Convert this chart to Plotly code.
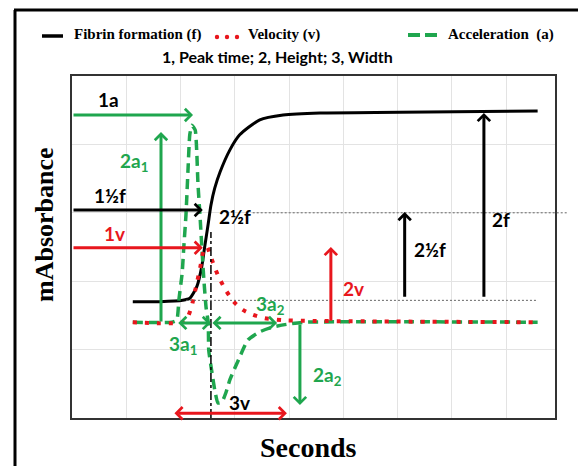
import plotly.graph_objects as go

# ---------------- data (axis units: seconds / mAbsorbance) -------------
fib_x = [1.12, 1.62, 2.04, 2.17, 2.30, 2.39, 2.45, 2.51, 2.56, 2.63, 2.73, 2.91, 3.09, 3.46, 3.89, 4.57, 6.04, 8.58]
fib_y = [1.70, 1.70, 1.72, 1.75, 1.92, 2.21, 2.53, 2.84, 3.11, 3.36, 3.60, 3.92, 4.14, 4.36, 4.43, 4.46, 4.47, 4.49]

vel_x = [1.12, 2.04, 2.14, 2.21, 2.28, 2.36, 2.43, 2.49, 2.54, 2.62, 2.71, 2.84, 2.98, 3.15, 3.33, 3.55, 3.89, 4.29, 8.58]
vel_y = [1.40, 1.40, 1.49, 1.65, 1.90, 2.19, 2.46, 2.50, 2.40, 2.22, 2.05, 1.86, 1.70, 1.58, 1.51, 1.46, 1.43, 1.42, 1.40]

acc_x = [1.12, 1.84, 1.93, 1.97, 2.03, 2.06, 2.10, 2.14, 2.17, 2.21, 2.27, 2.30, 2.32, 2.36, 2.39, 2.43,
         2.47, 2.51, 2.52, 2.58, 2.63, 2.69, 2.76, 2.84, 2.91, 3.09, 3.24, 3.46, 3.70, 3.96, 4.29, 8.58]
acc_y = [1.40, 1.40, 1.43, 1.73, 2.12, 2.50, 2.97, 3.67, 4.14, 4.28, 4.21, 3.87, 3.44, 2.94, 2.53, 2.02,
         1.62, 1.39, 0.99, 0.66, 0.41, 0.22, 0.23, 0.38, 0.56, 0.89, 1.14, 1.26, 1.33, 1.37, 1.40, 1.40]

# arrows: tail -> head, colour, double-headed
arrow_tail_x = [0.00, 1.64, 0.00, 0.00, 6.13, 7.59, 4.77, 4.20, 1.93, 2.56, 1.86]
arrow_tail_y = [4.43, 1.39, 3.04, 2.49, 1.75, 1.75, 1.40, 1.39, 1.39, 1.39, 0.07]
arrow_head_x = [2.23, 1.64, 2.41, 2.41, 6.13, 7.59, 4.77, 4.20, 2.56, 3.78, 3.96]
arrow_head_y = [4.43, 4.18, 3.04, 2.49, 3.01, 4.46, 2.50, 0.19, 1.39, 1.39, 0.07]
arrow_color = ["g", "g", "k", "r", "k", "k", "r", "g", "g", "g", "r"]
arrow_double = [False, False, False, False, False, False, False, False, True, True, True]

# labels
label_text = ["1a", "2a<sub>1</sub>", "1½f", "1v", "2½f", "2½f", "2f", "2v", "3a<sub>2</sub>", "3a<sub>1</sub>", "2a<sub>2</sub>", "3v"]
label_x = [0.68, 1.14, 0.70, 0.79, 3.00, 6.59, 7.90, 5.18, 3.65, 2.04, 4.70, 3.09]
label_y = [4.65, 3.74, 3.26, 2.70, 2.94, 2.46, 2.90, 1.90, 1.65, 1.07, 0.61, 0.22]
label_color = ["k", "g", "k", "r", "k", "k", "k", "r", "g", "g", "g", "k"]

# reference (dotted) levels and peak-time marker
half_level = 3.0
base_level = 1.72
peak_time = 2.56
peak_top = 2.72

X_RANGE = [0, 8.9]
Y_RANGE = [0, 5]

GREEN = "#1fa64e"
RED = "#e8161d"
BLACK = "#000000"
COL = {"g": GREEN, "r": RED, "k": BLACK}

# ---------------- layout geometry (screen pixels; page body adds an 8px offset) ----------------
OFF = 8
W, H = 586 - 2 * OFF, 474 - 2 * OFF
L, R, T, B = 72 - OFF, 555 - OFF, 76 - OFF, 418 - OFF


def px(xs):
    return (xs - OFF - L) / (R - L)


def py(ys):
    return (B - (ys - OFF)) / (B - T)


fig = go.Figure()

fig.add_trace(go.Scatter(x=fib_x, y=fib_y, mode="lines", name="Fibrin formation (f)",
                         line=dict(color=BLACK, width=3, shape="spline", smoothing=0.6)))
fig.add_trace(go.Scatter(x=acc_x, y=acc_y, mode="lines", name="Acceleration (a)",
                         line=dict(color=GREEN, width=3.5, dash="10px,6px", shape="spline", smoothing=0.5)))
fig.add_trace(go.Scatter(x=vel_x, y=vel_y, mode="lines", name="Velocity (v)",
                         line=dict(color=RED, width=4, dash="4px,8px", shape="spline", smoothing=0.6)))

shapes = []
xr = X_RANGE[1] - X_RANGE[0]
shapes.append(dict(type="line", xref="paper", yref="y", x0=3.33 / xr, x1=px(568), y0=half_level, y1=half_level,
                   line=dict(color="#666666", width=1, dash="2px,2px")))
shapes.append(dict(type="line", xref="x", yref="y", x0=2.10, x1=8.58, y0=base_level, y1=base_level,
                   line=dict(color="#666666", width=1, dash="2px,2px")))
shapes.append(dict(type="line", xref="x", yref="y", x0=peak_time, x1=peak_time, y0=0, y1=peak_top,
                   line=dict(color=BLACK, width=1.5, dash="dashdot")))

# outer frame (left + top)
shapes.append(dict(type="line", xref="paper", yref="paper", x0=px(15), x1=px(15), y0=py(480), y1=py(10),
                   line=dict(color=BLACK, width=3)))
shapes.append(dict(type="line", xref="paper", yref="paper", x0=px(14), x1=px(600), y0=py(10), y1=py(10),
                   line=dict(color=BLACK, width=3)))

# legend samples
shapes.append(dict(type="line", xref="paper", yref="paper", x0=px(42), x1=px(63), y0=py(36), y1=py(36),
                   line=dict(color=BLACK, width=3.5)))
for dxp in (217, 227, 237):
    shapes.append(dict(type="circle", xref="paper", yref="paper", xsizemode="pixel", ysizemode="pixel",
                       xanchor=px(dxp), yanchor=py(37), x0=-2.2, x1=2.2, y0=-2.2, y1=2.2,
                       fillcolor=RED, line=dict(width=0)))
for a, b in ((408, 420), (425, 437)):
    shapes.append(dict(type="line", xref="paper", yref="paper", x0=px(a), x1=px(b), y0=py(35), y1=py(35),
                       line=dict(color=GREEN, width=4)))

annotations = []
for i in range(len(arrow_tail_x)):
    c = COL[arrow_color[i]]
    ann = dict(x=arrow_head_x[i], y=arrow_head_y[i], ax=arrow_tail_x[i], ay=arrow_tail_y[i],
               xref="x", yref="y", axref="x", ayref="y", text="", showarrow=True,
               arrowhead=4, arrowsize=0.8, arrowwidth=3, arrowcolor=c, standoff=0, startstandoff=0)
    if arrow_double[i]:
        ann.update(arrowside="end+start", startarrowhead=4, startarrowsize=0.8)
    annotations.append(ann)

for t, x, y, c in zip(label_text, label_x, label_y, label_color):
    annotations.append(dict(x=x, y=y, xref="x", yref="y", text="<b>" + t + "</b>", showarrow=False,
                            font=dict(family="Lato", size=19, color=COL[c]), xanchor="center", yanchor="middle"))

serif = "Liberation Serif"
annotations.append(dict(x=px(72), y=py(35), xref="paper", yref="paper", text="<b>Fibrin formation (f)</b>",
                        showarrow=False, xanchor="left", yanchor="middle", font=dict(family=serif, size=15, color=BLACK)))
annotations.append(dict(x=px(246), y=py(35), xref="paper", yref="paper", text="<b>Velocity (v)</b>",
                        showarrow=False, xanchor="left", yanchor="middle", font=dict(family=serif, size=15, color=BLACK)))
annotations.append(dict(x=px(446), y=py(35), xref="paper", yref="paper", text="<b>Acceleration  (a)</b>",
                        showarrow=False, xanchor="left", yanchor="middle", font=dict(family=serif, size=15, color=BLACK)))
annotations.append(dict(x=px(277), y=py(57), xref="paper", yref="paper", text="<b>1, Peak time; 2, Height; 3, Width</b>",
                        showarrow=False, xanchor="center", yanchor="middle", font=dict(family="Lato", size=16, color=BLACK)))
annotations.append(dict(x=px(45), y=py(225), xref="paper", yref="paper", text="<b>mAbsorbance</b>", textangle=-90,
                        showarrow=False, xanchor="center", yanchor="middle", font=dict(family=serif, size=26, color=BLACK)))
annotations.append(dict(x=px(308), y=py(447), xref="paper", yref="paper", text="<b>Seconds</b>",
                        showarrow=False, xanchor="center", yanchor="middle", font=dict(family=serif, size=28, color=BLACK)))

fig.update_layout(
    width=W, height=H,
    margin=dict(l=L, r=W - R, t=T, b=H - B, pad=0),
    paper_bgcolor="white", plot_bgcolor="white",
    showlegend=False,
    shapes=shapes, annotations=annotations,
    xaxis=dict(range=X_RANGE, dtick=1, tick0=0, showgrid=True, gridcolor="#e3e3e3", gridwidth=1,
               showticklabels=False, ticks="", zeroline=False, showline=True, mirror=True,
               linecolor="#333333", linewidth=2),
    yaxis=dict(range=Y_RANGE, dtick=1, tick0=0, showgrid=True, gridcolor="#e3e3e3", gridwidth=1,
               showticklabels=False, ticks="", zeroline=False, showline=True, mirror=True,
               linecolor="#333333", linewidth=2),
)

fig.write_html("out.html")
